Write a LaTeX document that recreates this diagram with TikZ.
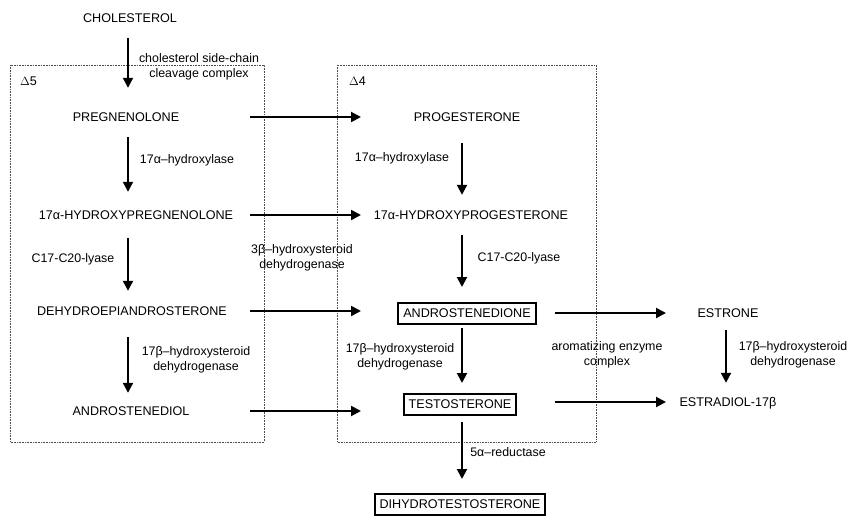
\documentclass[tikz,border=0pt]{standalone}
\usepackage{fontspec}
\setmainfont{Liberation Sans}
\usetikzlibrary{arrows.meta}
\tikzset{
	stoff/.style={inner sep=0pt, font=\fontsize{12.6}{15}\selectfont, text height=9pt, text depth=0pt},
	kasten/.style={stoff, draw, line width=2pt, inner xsep=5pt, inner ysep=6pt},
	enzym/.style={inner sep=0pt, align=center, font=\fontsize{12.4}{15}\selectfont},
	pfeil/.style={line width=2pt, -{Triangle[length=10pt,width=10pt]}},
	zone/.style={densely dotted, line width=0.6pt, black!70}
}

\begin{document}
\begin{tikzpicture}[x=1pt, y=-1pt]
			%%%%% START %%%%%
			\useasboundingbox (0, 0) rectangle (852, 515);
			
			\draw[zone] (10, 65) rectangle (264, 442);
			\draw[zone] (337, 65) rectangle (596, 442);
			\node[stoff, anchor=west] (d5) at (20, 81) {$\Delta$5};
			\node[stoff, anchor=west] (d4) at (349, 81) {$\Delta$4};
			
			\coordinate (lcol) at (128, 0);
			\coordinate (rcol) at (462, 0);
			\coordinate (ecol) at (726, 0);
			\coordinate (lfrom) at (250, 0);
			\coordinate (lto) at (361, 0);
			\coordinate (rfrom) at (555, 0);
			\coordinate (rto) at (666, 0);
			
			\node[stoff] (chol) at (130, 18) {CHOLESTEROL};
			\node[stoff] (preg) at (126, 117) {PREGNENOLONE};
			\node[stoff] (ohpreg) at (136, 215) {17α-HYDROXYPREGNENOLONE};
			\node[stoff] (dhea) at (132, 311) {DEHYDROEPIANDROSTERONE};
			\node[stoff] (diol) at (131, 411) {ANDROSTENEDIOL};
			
			\node[stoff] (prog) at (467, 117) {PROGESTERONE};
			\node[stoff] (ohprog) at (471, 215) {17α-HYDROXYPROGESTERONE};
			\node[kasten] (andro) at (467, 313) {ANDROSTENEDIONE};
			\node[kasten] (testo) at (460, 404) {TESTOSTERONE};
			\node[kasten] (dht) at (460, 504) {DIHYDROTESTOSTERONE};
			
			\node[stoff] (estron) at (728, 313) {ESTRONE};
			\node[stoff] (estradiol) at (728, 402) {ESTRADIOL-17β};
			
			% enzymes
			\node[enzym] (scc) at (199, 67) {cholesterol side-chain\\cleavage complex};
			\node[enzym] (hyd1) at (187, 160) {17α–hydroxylase};
			\node[enzym] (hyd2) at (402, 158) {17α–hydroxylase};
			\node[enzym] (lyase1) at (73, 259) {C17-C20-lyase};
			\node[enzym] (lyase2) at (519, 258) {C17-C20-lyase};
			\node[enzym] (hsd3) at (302, 258) {3β–hydroxysteroid\\dehydrogenase};
			\node[enzym] (hsd17a) at (196, 360) {17β–hydroxysteroid\\dehydrogenase};
			\node[enzym] (hsd17b) at (400, 357) {17β–hydroxysteroid\\dehydrogenase};
			\node[enzym] (arom) at (607, 355) {aromatizing enzyme\\complex};
			\node[enzym] (hsd17c) at (793, 355) {17β–hydroxysteroid\\dehydrogenase};
			\node[enzym] (red) at (508, 452) {5α–reductase};
			
			% down the columns
			\draw[pfeil, shorten <=15.5pt, shorten >=24.5pt] (chol.south -| lcol) -- (preg.north -| lcol);
			\draw[pfeil, shorten <=15.5pt, shorten >=18.5pt] (preg.south -| lcol) -- (ohpreg.north -| lcol);
			\draw[pfeil, shorten <=18.5pt, shorten >=15.5pt] (ohpreg.south -| lcol) -- (dhea.north -| lcol);
			\draw[pfeil, shorten <=21.5pt, shorten >=13.5pt] (dhea.south -| lcol) -- (diol.north -| lcol);
			
			\draw[pfeil, shorten <=21.5pt, shorten >=15.5pt] (prog.south -| rcol) -- (ohprog.north -| rcol);
			\draw[pfeil, shorten <=15.5pt, shorten >=14.5pt] (ohprog.south -| rcol) -- (andro.north -| rcol);
			\draw[pfeil, shorten <=3.5pt, shorten >=9.5pt] (andro.south -| rcol) -- (testo.north -| rcol);
			\draw[pfeil, shorten <=6.5pt, shorten >=13.5pt] (testo.south -| rcol) -- (dht.north -| rcol);
			
			\draw[pfeil, shorten <=12.5pt, shorten >=14.5pt] (estron.south -| ecol) -- (estradiol.north -| ecol);
			
			% across
			\draw[pfeil] (preg -| lfrom) -- (prog -| lto);
			\draw[pfeil] (ohpreg -| lfrom) -- (ohprog -| lto);
			\draw[pfeil] (dhea -| lfrom) -- (dhea -| lto);
			\draw[pfeil] (diol -| lfrom) -- (diol -| lto);
			\draw[pfeil] (andro -| rfrom) -- (estron -| rto);
			\draw[pfeil] (estradiol -| rfrom) -- (estradiol -| rto);
			%%%%% END %%%%%
\end{tikzpicture}
\end{document}
